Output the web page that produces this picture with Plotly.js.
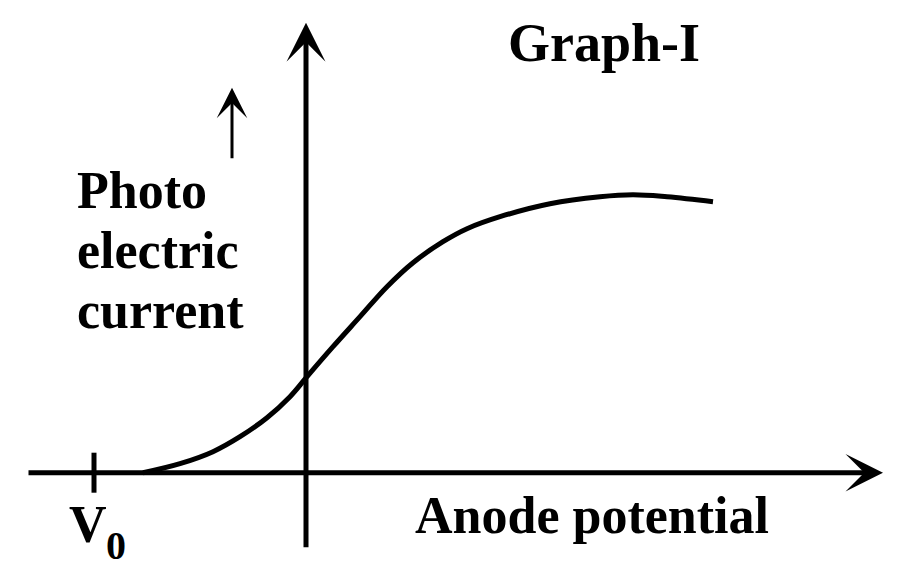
<!DOCTYPE html>
<html>
<head>
<meta charset="utf-8">
<script src="https://cdn.plot.ly/plotly-3.0.1.min.js"></script>
<style>
  html, body { margin: 0; padding: 0; background: #fff; }
  #chart { width: 900px; height: 581px; }
</style>
</head>
<body>
<div id="chart"></div>
<script>
// Graph-I: photoelectric current vs anode potential (schematic, arbitrary units)
const anodePotential = [-163, -126, -93, -66, -39, -16, 1, 27, 54, 81, 107, 137, 161, 194, 244, 294, 327, 361, 407];
const photoCurrent = [0, 9, 21, 36, 55, 76, 96, 126, 156, 186, 210, 231, 244, 256, 269, 276, 278, 276, 271];

const stoppingPotential = -212;
const stoppingLabel = "V";
const stoppingSub = "0";
const currentLabel = ["Photo", "electric", "current"];
const potentialLabel = "Anode potential";
const graphTitle = "Graph-I";

const FONT = { family: "'Liberation Serif', 'Times New Roman', serif", size: 52, color: "#000", weight: "bold" };

function textNote(text, x, y, size) {
  return {
    text, x, y, xref: "x", yref: "y",
    xanchor: "left", yanchor: "middle",
    showarrow: false,
    font: { ...FONT, size: size || FONT.size },
  };
}

function arrowNote(x0, y0, x1, y1, width, size) {
  return {
    x: x1, y: y1, ax: x0, ay: y0,
    xref: "x", yref: "y", axref: "x", ayref: "y",
    text: "", showarrow: true,
    arrowhead: 3, arrowsize: size, arrowwidth: width, arrowcolor: "#000",
    standoff: 0, startstandoff: 0,
  };
}

const trace = {
  x: anodePotential,
  y: photoCurrent,
  type: "scatter",
  mode: "lines",
  line: { color: "#000", width: 5, shape: "spline", smoothing: 1.1 },
  hoverinfo: "skip",
};

const annotations = [
  arrowNote(-279, 0, 577, 0, 5, 1.25),
  arrowNote(0, -76, 0, 450, 5, 1.3),
  arrowNote(-74, 313, -74, 385, 3, 1.7),
  textNote(graphTitle, 200, 430, 54),
  textNote(currentLabel[0], -231, 282),
  textNote(currentLabel[1], -231, 222),
  textNote(currentLabel[2], -231, 162),
  textNote(potentialLabel, 107, -43),
  textNote(stoppingLabel, -239, -52),
  textNote(stoppingSub, -202, -73, 40),
];

const layout = {
  width: 900,
  height: 581,
  margin: { t: 0, r: 0, b: 0, l: 0 },
  paper_bgcolor: "#fff",
  plot_bgcolor: "#fff",
  showlegend: false,
  xaxis: { range: [-306, 594], visible: false, fixedrange: true },
  yaxis: { range: [-108.3, 472.7], visible: false, fixedrange: true },
  shapes: [
    {
      type: "line", xref: "x", yref: "y",
      x0: stoppingPotential, x1: stoppingPotential, y0: -20, y1: 20,
      line: { color: "#000", width: 5 },
    },
  ],
  annotations,
};

Plotly.newPlot("chart", [trace], layout, { displayModeBar: false, staticPlot: true });
</script>
</body>
</html>
